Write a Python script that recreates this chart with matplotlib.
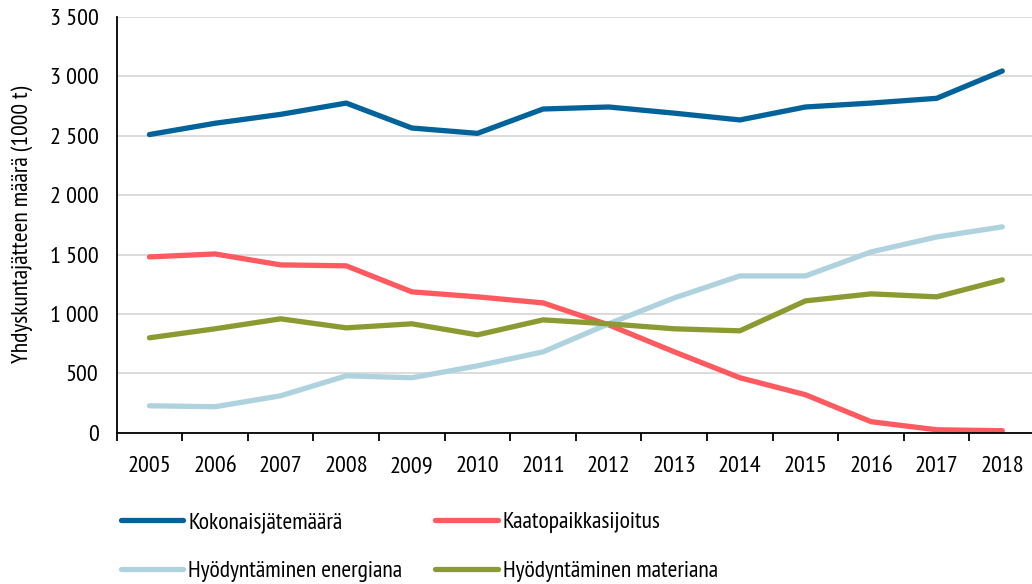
import matplotlib
matplotlib.use("Agg")
from matplotlib import pyplot as plt
from matplotlib.ticker import FuncFormatter, MultipleLocator

plt.rcParams['font.family'] = ['PT Sans Narrow', 'Fira Sans Condensed', 'Roboto Condensed',
                               'Liberation Sans', 'DejaVu Sans']

years = ["2005", "2006", "2007", "2008", "2009", "2010", "2011",
         "2012", "2013", "2014", "2015", "2016", "2017", "2018"]

kokonais = [2510, 2605, 2680, 2775, 2565, 2520, 2725, 2742, 2690, 2633, 2742, 2775, 2815, 3045]
kaatopaikka = [1480, 1505, 1413, 1405, 1186, 1144, 1093, 908, 681, 463, 320, 93, 25, 17]
energia = [227, 219, 311, 479, 463, 563, 681, 917, 1135, 1320, 1320, 1522, 1648, 1733]
materia = [799, 875, 959, 883, 917, 824, 950, 917, 875, 858, 1110, 1169, 1144, 1287]

names = ["Kokonaisjätemäärä", "Kaatopaikkasijoitus",
         "Hyödyntäminen energiana", "Hyödyntäminen materiana"]
colors = ["#02639a", "#ff5a60", "#aed3de", "#8c9a32"]

fig = plt.figure(figsize=(10.32, 5.84), dpi=100)
ax = fig.add_axes([0.113, 0.259, 0.89, 0.712])

x = list(range(len(years)))
lines = []
for vals, name, col in zip([kokonais, kaatopaikka, energia, materia], names, colors):
    ln, = ax.plot(x, vals, color=col, lw=3.8, label=name, solid_capstyle="round",
                  solid_joinstyle="round")
    lines.append(ln)

ax.set_xlim(-0.5, len(years) - 0.5)
ax.set_ylim(0, 3500)
ax.yaxis.set_major_locator(MultipleLocator(500))
ax.yaxis.set_major_formatter(FuncFormatter(lambda v, p: f"{int(v):,}".replace(",", " ")))
ax.grid(axis="y", color="#d9d9d9", lw=1.3)
ax.set_axisbelow(True)

ax.set_xticks(x)
ax.set_xticklabels(years)
ax.set_xticks([i - 0.5 for i in range(len(years) + 1)], minor=True)
ax.tick_params(axis="x", which="major", length=0, pad=17, labelsize=17.5)
ax.tick_params(axis="x", which="minor", length=6, width=1.3, direction="out")
ax.tick_params(axis="y", length=0, pad=13, labelsize=17.5)

for s in ["top", "right"]:
    ax.spines[s].set_visible(False)
ax.spines["left"].set_linewidth(1.3)
ax.spines["bottom"].set_linewidth(1.3)

ax.set_ylabel("Yhdyskuntajätteen määrä (1000 t)", fontsize=17, labelpad=12)

order = [0, 2, 1, 3]
fig.legend([lines[i] for i in order], [names[i] for i in order],
           loc="upper left", bbox_to_anchor=(0.108, 0.14), ncol=2, frameon=False,
           fontsize=17, handlelength=2.65, handletextpad=0.2, columnspacing=1.4,
           labelspacing=1.15, borderaxespad=0)

fig.savefig("out.png", dpi=100)
